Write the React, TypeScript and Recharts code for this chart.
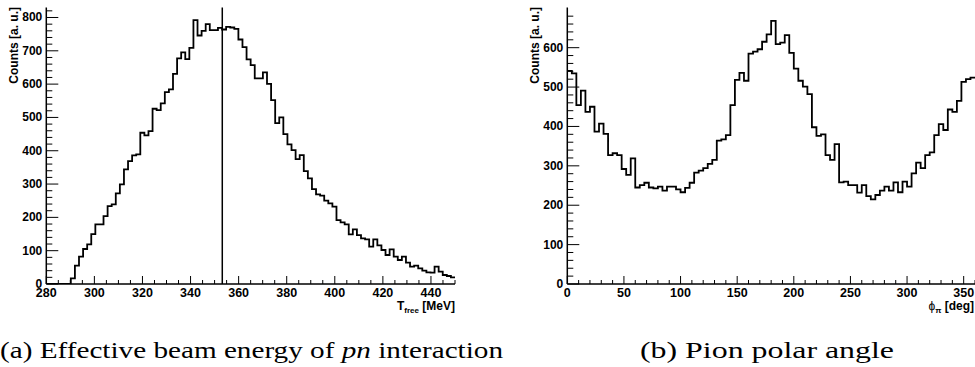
import React from "react";
import { ComposedChart, Line, XAxis, YAxis, ReferenceLine } from "recharts";

// effective beam energy histogram, 100 bins from 280 to 450 MeV
const energyLow = 280;
const energyBinWidth = 1.7;
const energyCounts = [
  0, 0, 0, 0, 0, 0, 17, 55, 82, 105,
  119, 150, 179, 179, 204, 234, 239, 272, 299, 344,
  369, 386, 389, 454, 446, 459, 526, 522, 542, 576,
  584, 631, 677, 695, 675, 709, 792, 746, 760, 780,
  762, 762, 769, 764, 772, 770, 766, 734, 711, 674,
  657, 617, 617, 635, 601, 552, 483, 500, 450, 419,
  402, 375, 387, 339, 317, 285, 269, 265, 250, 242,
  232, 192, 185, 179, 149, 164, 147, 137, 134, 112,
  134, 116, 102, 87, 104, 82, 72, 82, 64, 52,
  55, 47, 40, 35, 34, 52, 37, 27, 24, 20,
];
const energyCut = 353.2;
const energyMajor = [280, 300, 320, 340, 360, 380, 400, 420, 440];
const energyCountMajor = [0, 100, 200, 300, 400, 500, 600, 700, 800];

// pion angle histogram, 90 bins of 4 deg
const phiLow = 0;
const phiBinWidth = 4;
const phiCounts = [
  541, 535, 454, 491, 437, 450, 387, 407, 381, 327,
  332, 327, 292, 277, 319, 245, 251, 257, 245, 243,
  247, 237, 247, 247, 240, 233, 244, 257, 283, 288,
  294, 305, 315, 364, 367, 378, 454, 518, 536, 516,
  585, 590, 596, 615, 634, 668, 609, 613, 632, 587,
  547, 516, 501, 482, 398, 376, 380, 327, 315, 355,
  258, 260, 251, 251, 232, 251, 223, 215, 226, 237,
  247, 237, 258, 233, 260, 247, 281, 308, 294, 327,
  334, 378, 406, 391, 443, 437, 465, 513, 520, 524,
];
const phiMajor = [0, 50, 100, 150, 200, 250, 300, 350];
const phiCountMajor = [0, 100, 200, 300, 400, 500, 600];

function steps(low: number, width: number, counts: number[]) {
  const rows = counts.map((c, i) => ({ x: +(low + i * width).toFixed(3), y: c }));
  rows.push({ x: +(low + counts.length * width).toFixed(3), y: counts[counts.length - 1] });
  return rows;
}

function range(from: number, to: number, step: number) {
  const out: number[] = [];
  for (let v = from; v <= to + 1e-9; v += step) out.push(v);
  return out;
}

const sans = "'Liberation Sans', Arial, sans-serif";
const serif = "'Liberation Serif', 'Times New Roman', serif";

function XTick(props: any) {
  const { x, y, payload, majors } = props;
  const major = majors.includes(payload.value);
  return (
    <g>
      <line x1={x} x2={x} y1={y} y2={y - (major ? 8 : 4)} stroke="#000" strokeWidth={1} />
      {major ? (
        <text x={x} y={y + 13} textAnchor="middle" fontSize={12.5} fontWeight={700} fontFamily={sans} fill="#000">
          {payload.value}
        </text>
      ) : null}
    </g>
  );
}

function YTick(props: any) {
  const { x, y, payload, majors } = props;
  const major = majors.includes(payload.value);
  return (
    <g>
      <line x1={x} x2={x + (major ? 12 : 6)} y1={y} y2={y} stroke="#000" strokeWidth={1} />
      {major ? (
        <text x={x - 4} y={y + 4} textAnchor="end" fontSize={12} fontWeight={700} fontFamily={sans} fill="#000">
          {payload.value}
        </text>
      ) : null}
    </g>
  );
}

type HistProps = {
  data: { x: number; y: number }[];
  left: number;
  width: number;
  axisWidth: number;
  marginRight: number;
  xDomain: [number, number];
  yDomain: [number, number];
  xTicks: number[];
  xMajors: number[];
  yTicks: number[];
  yMajors: number[];
  cut?: number;
};

function Hist(p: HistProps) {
  return (
    <div style={{ position: "absolute", left: p.left, top: 0 }}>
      <ComposedChart
        width={p.width}
        height={320}
        data={p.data}
        margin={{ top: 7.5, right: p.marginRight, left: 0, bottom: 0 }}
      >
        <XAxis
          dataKey="x"
          type="number"
          domain={p.xDomain}
          allowDataOverflow
          ticks={p.xTicks}
          interval={0}
          tickSize={0}
          tickMargin={0}
          height={36}
          axisLine={{ stroke: "#000", strokeWidth: 1.5 }}
          tickLine={false}
          tick={(t: any) => <XTick {...t} majors={p.xMajors} />}
        />
        <XAxis
          xAxisId="top"
          orientation="top"
          dataKey="x"
          type="number"
          domain={p.xDomain}
          allowDataOverflow
          height={0}
          tick={false}
          tickLine={false}
          axisLine={{ stroke: "#555", strokeWidth: 1.2 }}
        />
        <YAxis
          type="number"
          domain={p.yDomain}
          allowDataOverflow
          ticks={p.yTicks}
          interval={0}
          tickSize={0}
          tickMargin={0}
          width={p.axisWidth}
          axisLine={{ stroke: "#000", strokeWidth: 1.5 }}
          tickLine={false}
          tick={(t: any) => <YTick {...t} majors={p.yMajors} />}
        />
        <YAxis
          yAxisId="right"
          orientation="right"
          type="number"
          domain={p.yDomain}
          width={0}
          tick={false}
          tickLine={false}
          axisLine={{ stroke: "#555", strokeWidth: 1.2 }}
        />
        {p.cut !== undefined ? (
          <ReferenceLine x={p.cut} stroke="#000" strokeWidth={1.5} />
        ) : null}
        <Line
          dataKey="y"
          type="stepAfter"
          stroke="#000"
          strokeWidth={1.8}
          dot={false}
          isAnimationActive={false}
        />
      </ComposedChart>
    </div>
  );
}

export default function App() {
  return (
    <div
      style={{
        position: "absolute",
        left: 0,
        top: 0,
        width: 975,
        height: 367,
        overflow: "hidden",
        background: "#fff",
      }}
    >
      <Hist
        data={steps(energyLow, energyBinWidth, energyCounts)}
        left={0}
        width={470}
        axisWidth={46.3}
        marginRight={15}
        xDomain={[280, 450]}
        yDomain={[0, 830]}
        xTicks={range(280, 450, 5)}
        xMajors={energyMajor}
        yTicks={range(0, 820, 20)}
        yMajors={energyCountMajor}
        cut={energyCut}
      />
      <Hist
        data={steps(phiLow, phiBinWidth, phiCounts)}
        left={490}
        width={485}
        axisWidth={77.3}
        marginRight={0}
        xDomain={[0, 360]}
        yDomain={[0, 702]}
        xTicks={range(0, 360, 10)}
        xMajors={phiMajor}
        yTicks={range(0, 680, 20)}
        yMajors={phiCountMajor}
      />

      {/* axis titles and sub-figure captions */}
      <svg
        width={975}
        height={367}
        style={{ position: "absolute", left: 0, top: 0, pointerEvents: "none" }}
      >
        <g fontFamily={sans} fontWeight={700} fill="#000">
          <text transform="translate(17.6,7) rotate(-90)" textAnchor="end" fontSize={12}>
            Counts [a. u.]
          </text>
          <text transform="translate(538.5,7) rotate(-90)" textAnchor="end" fontSize={12}>
            Counts [a. u.]
          </text>
          <text x={455} y={310} textAnchor="end" fontSize={12}>
            T<tspan fontSize={8} dy={2.5}>free</tspan>
            <tspan dy={-2.5}> [MeV]</tspan>
          </text>
          <text x={974} y={310} textAnchor="end" fontSize={12}>
            <tspan fontWeight={400}>ϕ</tspan>
            <tspan fontSize={8} dy={2.5}>π</tspan>
            <tspan dy={-2.5}> [deg]</tspan>
          </text>
        </g>
        <g fontFamily={serif} fontSize={24} fill="#000">
          <text x={0} y={358} textLength={503} lengthAdjust="spacingAndGlyphs">
            (a) Effective beam energy of <tspan fontStyle="italic">pn</tspan> interaction
          </text>
          <text x={640} y={358} textLength={254} lengthAdjust="spacingAndGlyphs">
            (b) Pion polar angle
          </text>
        </g>
      </svg>
    </div>
  );
}
